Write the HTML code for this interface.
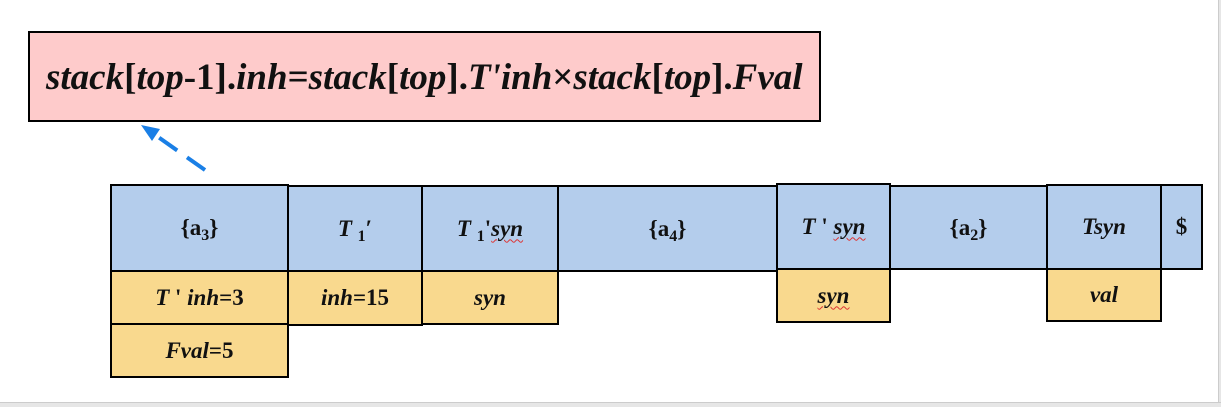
<!DOCTYPE html>
<html><head><meta charset="utf-8"><style>
body{margin:0;width:1221px;height:406px;background:#fff;position:relative;overflow:hidden;font-family:"Liberation Serif","Times New Roman",serif;font-weight:bold}
.b{position:absolute;box-sizing:border-box;border:2px solid #000;display:flex;align-items:center;justify-content:center;font-size:23px;color:#111}
.bl{background:#b4cdec}.y{background:#f9d98e}
i{font-style:italic}
sub{font-size:16px;vertical-align:-5px;line-height:0}
.w{text-decoration:underline wavy #d33;text-decoration-thickness:1px;text-underline-offset:3px}
</style></head><body>
<div style="position:absolute;left:1218px;top:0;width:3px;height:406px;background:#e6e6e6;border-left:1px solid #ccc"></div>
<div style="position:absolute;left:0;top:402px;width:1221px;height:4px;background:#e6e6e6;border-top:1px solid #ccc"></div>
<div class="b" style="left:28px;top:31px;width:793px;height:91px;background:#fecbcb;font-size:37px;justify-content:flex-start;padding-left:16px;padding-top:2px;white-space:nowrap;overflow:hidden"><span><i>stack</i>[<i>top</i>-1].<i>inh</i>=<i>stack</i>[<i>top</i>].<i>T'inh</i>×<i>stack</i>[<i>top</i>].<i>Fval</i></span></div>
<svg style="position:absolute;left:0;top:0" width="1221" height="406">
<line x1="205" y1="170" x2="151" y2="132" stroke="#1a7fe6" stroke-width="4" stroke-dasharray="22,12"/>
<polygon points="141,125 160,129 152,141" fill="#1a7fe6"/>
</svg>
<div class="b bl" style="left:110px;top:184px;width:179px;height:88px"><span>{a<sub>3</sub>}</span></div>
<div class="b bl" style="left:287px;top:185px;width:136px;height:87px"><span><i>T</i>&nbsp;<sub>1</sub>′</span></div>
<div class="b bl" style="left:421px;top:185px;width:138px;height:87px"><span><i>T</i>&nbsp;<sub>1</sub>'<i class="w">syn</i></span></div>
<div class="b bl" style="left:557px;top:185px;width:221px;height:87px"><span>{a<sub>4</sub>}</span></div>
<div class="b bl" style="left:776px;top:183px;width:115px;height:87px"><span><i>T</i>&nbsp;'&nbsp;<i class="w">syn</i></span></div>
<div class="b bl" style="left:889px;top:185px;width:159px;height:85px"><span>{a<sub>2</sub>}</span></div>
<div class="b bl" style="left:1046px;top:184px;width:116px;height:86px"><span><i>Tsyn</i></span></div>
<div class="b bl" style="left:1160px;top:184px;width:43px;height:86px"><span>$</span></div>
<div class="b y" style="left:110px;top:270px;width:179px;height:55px"><span><i>T</i>&nbsp;'&nbsp;<i>inh</i>=3</span></div>
<div class="b y" style="left:287px;top:270px;width:136px;height:56px"><span><i>inh</i>=15</span></div>
<div class="b y" style="left:421px;top:270px;width:138px;height:55px"><span><i>syn</i></span></div>
<div class="b y" style="left:110px;top:323px;width:179px;height:55px"><span><i>Fval</i>=5</span></div>
<div class="b y" style="left:776px;top:268px;width:115px;height:55px"><span><i class="w">syn</i></span></div>
<div class="b y" style="left:1046px;top:268px;width:116px;height:54px"><span><i>val</i></span></div>
</body></html>
